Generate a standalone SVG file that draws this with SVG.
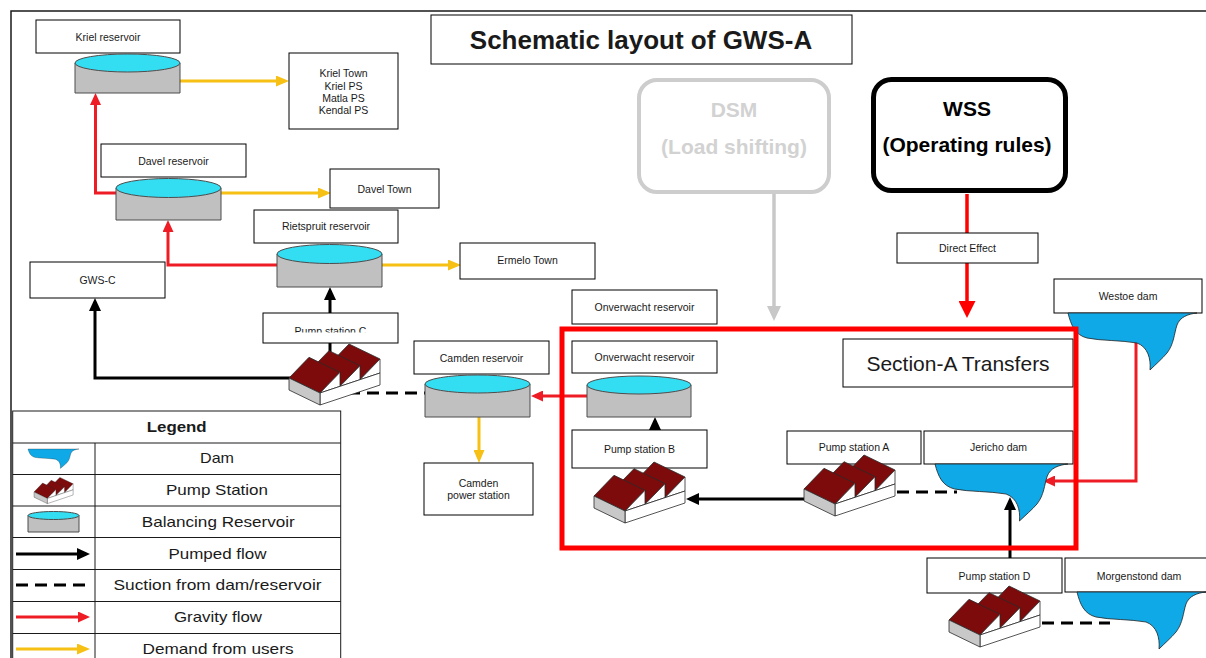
<svg xmlns="http://www.w3.org/2000/svg" xmlns:xlink="http://www.w3.org/1999/xlink" width="1206" height="658" viewBox="0 0 1206 658">
  <style>
    .box{fill:#fff;stroke:#000;stroke-width:1}
    .t{font-family:"Liberation Sans",Arial,sans-serif;font-size:10.5px;fill:#1a1a1a;text-anchor:middle}
    .lg{font-size:15px}
    .big{font-weight:bold;font-size:21px}
    .res-body{fill:#c0c0c0;stroke:#4d4d4d;stroke-width:1}
    .res-top{fill:#33ddf2;stroke:#4d4d4d;stroke-width:1}
    .dam{fill:#10a9e8;stroke:#222;stroke-width:0.8}
    .roof{fill:#7d0b0b;stroke:#2a2a2a;stroke-width:0.8;stroke-linejoin:round}
    .wall{fill:#fff;stroke:#2a2a2a;stroke-width:0.8;stroke-linejoin:round}
    .gable{fill:#c8c8c8;stroke:#2a2a2a;stroke-width:0.8;stroke-linejoin:round}
    .pumped{fill:none;stroke:#000;stroke-width:3}
    .suction{fill:none;stroke:#000;stroke-width:3;stroke-dasharray:12 7}
    .gravity{fill:none;stroke:#ee1c25;stroke-width:3}
    .demand{fill:none;stroke:#f6c015;stroke-width:3}
    .cell{fill:#fff;stroke:#1a1a1a;stroke-width:1}
  </style>
  <defs>
    <marker id="arrK" markerUnits="userSpaceOnUse" markerWidth="13" markerHeight="12" refX="9" refY="6" orient="auto">
      <path d="M0,0 L13,6 L0,12 Z" fill="#000"/>
    </marker>
    <marker id="arrR" markerUnits="userSpaceOnUse" markerWidth="12" markerHeight="11" refX="8" refY="5.5" orient="auto">
      <path d="M0,0 L12,5.5 L0,11 Z" fill="#ee1c25"/>
    </marker>
    <marker id="arrY" markerUnits="userSpaceOnUse" markerWidth="13" markerHeight="11" refX="9" refY="5.5" orient="auto">
      <path d="M0,0 L13,5.5 L0,11 Z" fill="#f6c015"/>
    </marker>
    <marker id="arrG" markerUnits="userSpaceOnUse" markerWidth="15" markerHeight="14" refX="11" refY="7" orient="auto">
      <path d="M0,0 L15,7 L0,14 Z" fill="#c8c8c8"/>
    </marker>
    <marker id="arrRB" markerUnits="userSpaceOnUse" markerWidth="17" markerHeight="17" refX="13" refY="8.5" orient="auto">
      <path d="M0,0 L17,8.5 L0,17 Z" fill="#ff0000"/>
    </marker>
    <!-- pump station: saw-tooth roofed building, origin at the gable's top-left corner -->
    <g id="pump-icon">
      <polygon class="roof" points="40,-13.33 71,1.67 91,-19 60,-34"/>
      <polygon class="wall" points="71,1.67 91,-5 91,-19"/>
      <polygon class="roof" points="20,-6.67 51,8.33 71,-12.33 40,-27.33"/>
      <polygon class="wall" points="51,8.33 71,1.67 71,-12.33"/>
      <polygon class="roof" points="0,0 31,15 51,-5.67 20,-20.67"/>
      <polygon class="wall" points="31,15 51,8.33 51,-5.67"/>
      <polygon class="wall" points="31,15 91,-5 91,7 31,27"/>
      <polygon class="gable" points="0,0 31,15 31,27 0,12"/>
    </g>
    <!-- dam basin outline, origin at top-left -->
    <path id="dam-shape" d="M0,0 L129,0 C120,1 112,4 109,12 C106,21 106,31 99,40 C94,46 88,51 82,57 C83,46 80,34 69,30 C52,27 34,28 19,25 C7,22 3,12 0,0 Z"/>
    <clipPath id="clipC"><rect x="263" y="313" width="135" height="19.5"/></clipPath>
  </defs>

  <rect width="1206" height="658" fill="#fff"/>
  <!-- page frame -->
  <rect x="11" y="11" width="1215" height="670" fill="none" stroke="#1a1a1a" stroke-width="1.5"/>

  <!-- connectors -->
  <g id="connectors">
    <path class="demand" d="M180,81 H285" marker-end="url(#arrY)"/>
    <path class="gravity" d="M116,193 H95.5 V97" marker-end="url(#arrR)"/>
    <path class="demand" d="M221,193 H327" marker-end="url(#arrY)"/>
    <path class="gravity" d="M277,265 H168 V224" marker-end="url(#arrR)"/>
    <path class="demand" d="M382,265 H457" marker-end="url(#arrY)"/>
    <path class="pumped" d="M292,378 H95 V302" marker-end="url(#arrK)"/>
    <path class="pumped" d="M330,352 V291" marker-end="url(#arrK)"/>
    <path class="suction" d="M348,393 H425"/>
    <path class="demand" d="M479,417 V459" marker-end="url(#arrY)"/>
    <path class="gravity" d="M587,396 H535" stroke-width="2" marker-end="url(#arrR)"/>
    <path class="pumped" d="M655,466 V421" stroke-width="2.5" marker-end="url(#arrK)"/>
    <path class="pumped" d="M806,499 H690" stroke-width="2.5" marker-end="url(#arrK)"/>
    <path class="suction" d="M897,492 H957"/>
    <path class="gravity" d="M1136,342 V481 H1047" stroke-width="2.5" marker-end="url(#arrR)"/>
    <path class="pumped" d="M1010,592 V501" marker-end="url(#arrK)"/>
    <path class="suction" d="M1042,623 H1110"/>
    <path d="M774,194 V317" fill="none" stroke="#c8c8c8" stroke-width="3.5" marker-end="url(#arrG)"/>
    <path d="M967,194 V314" fill="none" stroke="#ff0000" stroke-width="3.5" marker-end="url(#arrRB)"/>
  </g>

  <!-- title -->
  <g id="title">
    <rect class="box" x="431" y="15" width="421" height="49"/>
    <text class="t" x="641" y="49" style="font-size:26px;font-weight:bold">Schematic layout of GWS-A</text>
  </g>

  <!-- reservoirs, towns, pump stations and dams -->
  <g id="kriel-reservoir">
    <rect class="box" x="36" y="20" width="144" height="33"/>
    <text class="t" x="108" y="40.5">Kriel reservoir</text>
    <path class="res-body" d="M75,63 V93 H180 V63 Z"/>
    <ellipse class="res-top" cx="127.5" cy="63" rx="52.5" ry="9"/>
  </g>
  <g id="kriel-users">
    <rect class="box" x="289" y="53" width="109" height="76"/>
    <text class="t" x="343.5" y="77.3">Kriel Town</text>
    <text class="t" x="343.5" y="89.5">Kriel PS</text>
    <text class="t" x="343.5" y="101.7">Matla PS</text>
    <text class="t" x="343.5" y="113.9">Kendal PS</text>
  </g>
  <g id="davel-reservoir">
    <rect class="box" x="101" y="144" width="145" height="33"/>
    <text class="t" x="173.5" y="164.8">Davel reservoir</text>
    <path class="res-body" d="M116,188 V220 H221 V188 Z"/>
    <ellipse class="res-top" cx="168.5" cy="188" rx="52.5" ry="9.5"/>
  </g>
  <g id="davel-town">
    <rect class="box" x="330" y="169" width="109" height="39"/>
    <text class="t" x="384.5" y="192.5">Davel Town</text>
  </g>
  <g id="rietspruit-reservoir">
    <rect class="box" x="254" y="210" width="144" height="33"/>
    <text class="t" x="326" y="230">Rietspruit reservoir</text>
    <path class="res-body" d="M277,254 V287 H382 V254 Z"/>
    <ellipse class="res-top" cx="329.5" cy="254" rx="52.5" ry="9.5"/>
  </g>
  <g id="ermelo-town">
    <rect class="box" x="460" y="243" width="135" height="36"/>
    <text class="t" x="527.5" y="264">Ermelo Town</text>
  </g>
  <g id="gws-c">
    <rect class="box" x="30" y="262" width="135" height="36"/>
    <text class="t" x="97.5" y="283.5">GWS-C</text>
  </g>
  <g id="pump-station-c">
    <rect class="box" x="263" y="313" width="135" height="30"/>
    <text class="t" x="330.5" y="334.5" clip-path="url(#clipC)">Pump station C</text>
    <use xlink:href="#pump-icon" transform="translate(289,378)"/>
  </g>
  <g id="camden-reservoir">
    <rect class="box" x="414" y="341" width="135" height="33"/>
    <text class="t" x="481.5" y="361.5">Camden reservoir</text>
    <path class="res-body" d="M425,384 V417 H530 V384 Z"/>
    <ellipse class="res-top" cx="477.5" cy="384" rx="52.5" ry="9"/>
  </g>
  <g id="camden-power-station">
    <rect class="box" x="424" y="463" width="109" height="52"/>
    <text class="t" x="478.5" y="486.5">Camden</text>
    <text class="t" x="478.5" y="498.5">power station</text>
  </g>
  <g id="onverwacht-label">
    <rect class="box" x="572" y="290" width="145" height="34"/>
    <text class="t" x="644.5" y="310.5">Onverwacht reservoir</text>
  </g>
  <g id="onverwacht-reservoir">
    <rect class="box" x="572" y="341" width="145" height="32"/>
    <text class="t" x="644.5" y="360.5">Onverwacht reservoir</text>
    <path class="res-body" d="M587,385 V417 H691 V385 Z"/>
    <ellipse class="res-top" cx="639" cy="385" rx="52" ry="9"/>
  </g>
  <g id="pump-station-b">
    <rect class="box" x="572" y="430" width="135" height="38"/>
    <text class="t" x="639.5" y="452.5">Pump station B</text>
    <use xlink:href="#pump-icon" transform="translate(594,496)"/>
  </g>
  <g id="pump-station-a">
    <rect class="box" x="787" y="431" width="134" height="33"/>
    <text class="t" x="854" y="451">Pump station A</text>
    <use xlink:href="#pump-icon" transform="translate(804,489)"/>
  </g>
  <g id="jericho-dam">
    <rect class="box" x="924" y="431" width="149" height="33"/>
    <text class="t" x="998.5" y="451">Jericho dam</text>
    <use xlink:href="#dam-shape" class="dam" transform="translate(935,464) scale(1.03,1)"/>
  </g>
  <g id="section-a-title">
    <rect class="box" x="843" y="339" width="230" height="48"/>
    <text class="t" x="958" y="370.5" style="font-size:21px">Section-A Transfers</text>
  </g>
  <g id="dsm">
    <rect x="639" y="80" width="190" height="112" rx="18" fill="#fff" stroke="#cdcdcd" stroke-width="4"/>
    <text class="t big" x="734" y="117" style="fill:#d2d2d2">DSM</text>
    <text class="t big" x="734" y="154" style="fill:#d2d2d2">(Load shifting)</text>
  </g>
  <g id="wss">
    <rect x="873.5" y="79.5" width="192" height="111" rx="18" fill="#fff" stroke="#000" stroke-width="5"/>
    <text class="t big" x="967" y="116" style="fill:#000">WSS</text>
    <text class="t big" x="967" y="152" style="fill:#000">(Operating rules)</text>
  </g>
  <g id="direct-effect">
    <rect class="box" x="897" y="233" width="141" height="30"/>
    <text class="t" x="967.5" y="252">Direct Effect</text>
  </g>
  <g id="westoe-dam">
    <rect class="box" x="1054" y="279" width="148" height="34"/>
    <text class="t" x="1128" y="300">Westoe dam</text>
    <use xlink:href="#dam-shape" class="dam" transform="translate(1068,313)"/>
  </g>
  <g id="pump-station-d">
    <rect class="box" x="927" y="558" width="135" height="35"/>
    <text class="t" x="994.5" y="579.5">Pump station D</text>
    <use xlink:href="#pump-icon" transform="translate(949,620)"/>
  </g>
  <g id="morgenstond-dam">
    <rect class="box" x="1065" y="558" width="150" height="34"/>
    <text class="t" x="1139" y="579.5">Morgenstond dam</text>
    <use xlink:href="#dam-shape" class="dam" transform="translate(1077,592)"/>
  </g>

  <!-- Section-A boundary -->
  <g id="section-a">
    <rect x="562" y="329" width="514" height="219" fill="none" stroke="#ff0000" stroke-width="5"/>
  </g>

  <!-- legend table -->
  <g id="legend">
    <rect class="cell" x="12.7" y="411" width="328" height="260"/>
    <line x1="12.7" y1="443" x2="340.7" y2="443" stroke="#1a1a1a"/>
    <line x1="12.7" y1="474.5" x2="340.7" y2="474.5" stroke="#1a1a1a"/>
    <line x1="12.7" y1="506" x2="340.7" y2="506" stroke="#1a1a1a"/>
    <line x1="12.7" y1="537.5" x2="340.7" y2="537.5" stroke="#1a1a1a"/>
    <line x1="12.7" y1="569.5" x2="340.7" y2="569.5" stroke="#1a1a1a"/>
    <line x1="12.7" y1="601.5" x2="340.7" y2="601.5" stroke="#1a1a1a"/>
    <line x1="12.7" y1="633.5" x2="340.7" y2="633.5" stroke="#1a1a1a"/>
    <line x1="95" y1="443" x2="95" y2="671" stroke="#1a1a1a"/>
    <text class="t lg" x="176.7" y="431.7" style="font-weight:bold" textLength="60" lengthAdjust="spacingAndGlyphs">Legend</text>
    <text class="t lg" x="217" y="463" textLength="34" lengthAdjust="spacingAndGlyphs">Dam</text>
    <text class="t lg" x="217" y="494.5" textLength="102" lengthAdjust="spacingAndGlyphs">Pump Station</text>
    <text class="t lg" x="218.3" y="526.5" textLength="153" lengthAdjust="spacingAndGlyphs">Balancing Reservoir</text>
    <text class="t lg" x="217.5" y="558.5" textLength="98" lengthAdjust="spacingAndGlyphs">Pumped flow</text>
    <text class="t lg" x="217.5" y="590" textLength="208" lengthAdjust="spacingAndGlyphs">Suction from dam/reservoir</text>
    <text class="t lg" x="218" y="622" textLength="88" lengthAdjust="spacingAndGlyphs">Gravity flow</text>
    <text class="t lg" x="218" y="653.5" textLength="151" lengthAdjust="spacingAndGlyphs">Demand from users</text>
    <use xlink:href="#dam-shape" class="dam" transform="translate(28,449) scale(0.395,0.34)"/>
    <use xlink:href="#pump-icon" transform="translate(34,492) scale(0.43)"/>
    <path class="res-body" d="M28,515.5 V532 H79 V515.5 Z"/>
    <ellipse class="res-top" cx="53.5" cy="515.5" rx="25.5" ry="4"/>
    <path class="pumped" d="M16,554 H86" stroke-width="2.5" marker-end="url(#arrK)"/>
    <path class="suction" d="M16,585 H90" stroke-dasharray="11 8"/>
    <path class="gravity" d="M16,617 H86" marker-end="url(#arrR)"/>
    <path class="demand" d="M16,649 H86" marker-end="url(#arrY)"/>
  </g>
</svg>
